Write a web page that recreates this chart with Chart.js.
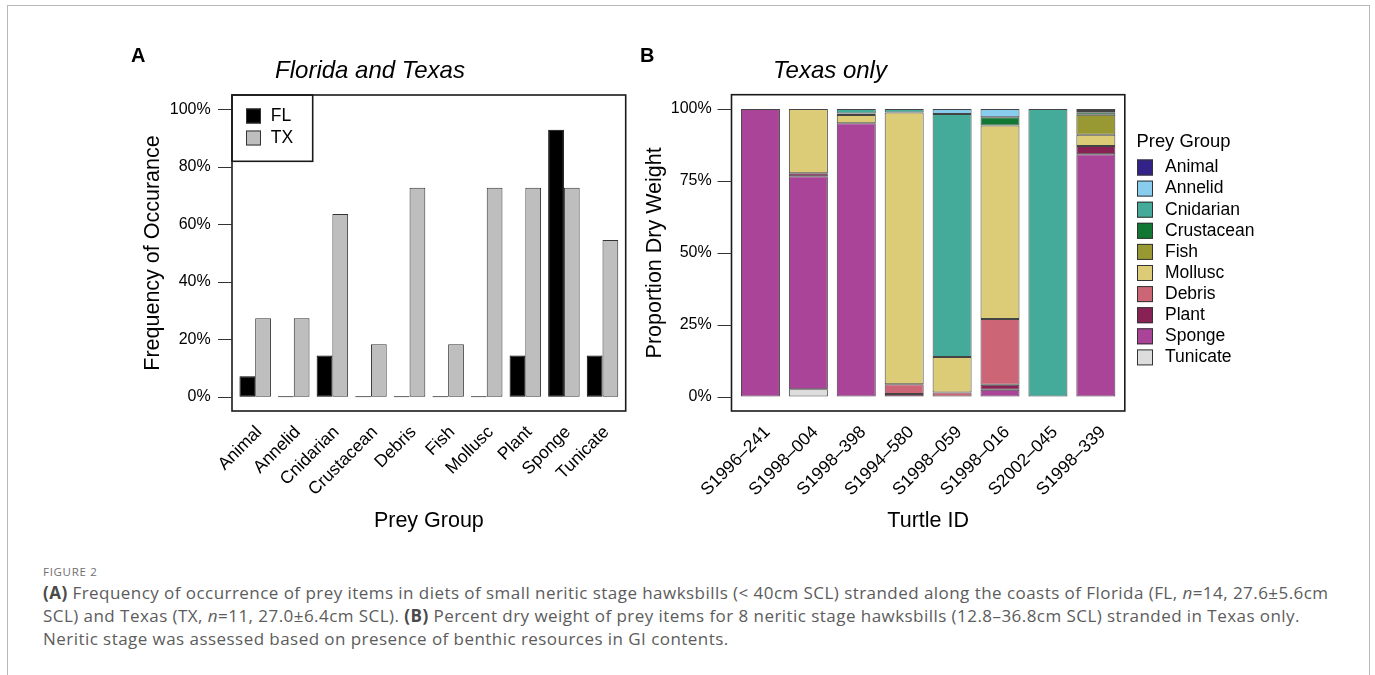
<!DOCTYPE html>
<html>
<head>
<meta charset="utf-8">
<script src="https://cdn.jsdelivr.net/npm/chart.js@4.4.1/dist/chart.umd.min.js"></script>
<style>
  html, body { margin: 0; padding: 0; background: #fff; }
  body { width: 1375px; height: 675px; position: relative; overflow: hidden; }
  #frame { position: absolute; left: 7px; top: 5px; width: 1363px; height: 720px; border: 1px solid #b8b8b8; box-sizing: border-box; }
  #cA { position: absolute; left: 0; top: 0; }
  #cB { position: absolute; left: 630px; top: 0; }
  #caption { position: absolute; left: 43px; top: 563px; font-family: "Open Sans", "Noto Sans", sans-serif; color: #5c5c5c; font-size: 17px; letter-spacing: 0.45px; line-height: 23px; white-space: nowrap; }
  #caption .fig { font-size: 11.5px; letter-spacing: 0.7px; color: #707070; line-height: 18px; }
  #caption b { color: #4a4a4a; }
</style>
</head>
<body>
<div id="frame"></div>
<canvas id="cA" width="660" height="560"></canvas>
<canvas id="cB" width="745" height="560"></canvas>
<div id="caption">
  <div class="fig">FIGURE 2</div>
  <div class="ln"><b>(A)</b> Frequency of occurrence of prey items in diets of small neritic stage hawksbills (&lt; 40cm SCL) stranded along the coasts of Florida (FL, <i>n</i>=14, 27.6±5.6cm</div>
  <div class="ln">SCL) and Texas (TX, <i>n</i>=11, 27.0±6.4cm SCL). <b>(B)</b> Percent dry weight of prey items for 8 neritic stage hawksbills (12.8–36.8cm SCL) stranded in Texas only.</div>
  <div class="ln">Neritic stage was assessed based on presence of benthic resources in GI contents.</div>
</div>
<script>
// ---- Panel A: frequency of occurrence (%) by prey group ----
const preyGroups = ['Animal', 'Annelid', 'Cnidarian', 'Crustacean', 'Debris', 'Fish', 'Mollusc', 'Plant', 'Sponge', 'Tunicate'];
const freqFL = [7.1, 0, 14.3, 0, 0, 0, 0, 14.3, 92.9, 14.3];
const freqTX = [27.3, 27.3, 63.6, 18.2, 72.7, 18.2, 72.7, 72.7, 72.7, 54.5];
const freqTicks = [0, 20, 40, 60, 80, 100];

// ---- Panel B: percent dry weight per turtle (stacked bottom to top) ----
const turtleIds = ['S1996–241', 'S1998–004', 'S1998–398', 'S1994–580', 'S1998–059', 'S1998–016', 'S2002–045', 'S1998–339'];
const pctTunicate   = [0, 2.6, 0, 0, 0, 0, 0, 0];
const pctSponge     = [100, 74.0, 95.1, 0, 0, 2.4, 0, 84.3];
const pctPlant      = [0, 1.1, 0, 0.9, 0, 1.7, 0, 2.9];
const pctDebris     = [0, 0, 0, 3.4, 1.4, 22.9, 0, 0];
const pctMollusc    = [0, 22.3, 2.8, 94.5, 12.4, 67.3, 0, 3.9];
const pctFish       = [0, 0, 0.6, 0, 0, 0, 0, 6.9];
const pctCrustacean = [0, 0, 0, 0, 0, 2.9, 0, 0.9];
const pctCnidarian  = [0, 0, 1.5, 1.2, 84.5, 0, 100, 0];
const pctAnnelid    = [0, 0, 0, 0, 1.7, 2.8, 0, 0.4];
const pctAnimal     = [0, 0, 0, 0, 0, 0, 0, 0.7];
const weightTicks = [0, 25, 50, 75, 100];

const FONT = "'Liberation Sans', Arial, Helvetica, sans-serif";
Chart.defaults.font.family = FONT;
Chart.defaults.color = '#000';
Chart.defaults.animation = false;

// Box around the plot region plus outward y tick marks (base-graphics look)
const rFrame = {
  id: 'rFrame',
  afterDraw(chart, args, o) {
    const { ctx, chartArea: a } = chart;
    const y = chart.scales.y;
    const L = a.left - o.padX, R = a.right + o.padX;
    ctx.save();
    ctx.strokeStyle = '#1a1a1a';
    ctx.lineWidth = 1.6;
    ctx.strokeRect(L, a.top, R - L, a.bottom - a.top);
    ctx.lineWidth = 1;
    ctx.strokeStyle = '#333';
    ctx.beginPath();
    y.ticks.forEach(t => {
      const py = Math.round(y.getPixelForValue(t.value)) + 0.5;
      ctx.moveTo(L - 14, py);
      ctx.lineTo(L, py);
    });
    ctx.stroke();
    ctx.restore();
  }
};

// Panel letters and panel titles
const panelText = {
  id: 'panelText',
  afterDraw(chart, args, o) {
    const ctx = chart.ctx;
    ctx.save();
    ctx.fillStyle = '#000';
    ctx.textBaseline = 'alphabetic';
    o.items.forEach(it => {
      ctx.font = it.font;
      ctx.textAlign = it.align || 'left';
      ctx.fillText(it.text, it.x, it.y);
    });
    ctx.restore();
  }
};

// Key with filled squares, optional frame and title
const boxLegend = {
  id: 'boxLegend',
  afterDraw(chart, args, o) {
    const ctx = chart.ctx;
    const ds = chart.data.datasets;
    ctx.save();
    if (o.frame) {
      ctx.strokeStyle = '#1a1a1a';
      ctx.lineWidth = 1.6;
      ctx.strokeRect(o.frame.x, o.frame.y, o.frame.w, o.frame.h);
    }
    ctx.textBaseline = 'middle';
    ctx.textAlign = 'left';
    if (o.title) {
      ctx.fillStyle = '#000';
      ctx.font = o.titleFont;
      ctx.fillText(o.title, o.titleX, o.titleY);
    }
    const order = o.reverse ? ds.map((d, i) => i).reverse() : ds.map((d, i) => i);
    order.forEach((di, k) => {
      const d = ds[di];
      const cy = o.y0 + k * o.step;
      ctx.fillStyle = d.backgroundColor;
      ctx.fillRect(o.x, cy - o.size / 2, o.size, o.size);
      ctx.strokeStyle = '#333';
      ctx.lineWidth = 1;
      ctx.strokeRect(o.x + 0.5, cy - o.size / 2 + 0.5, o.size - 1, o.size - 1);
      ctx.fillStyle = '#000';
      ctx.font = o.font;
      ctx.fillText(d.label, o.textX, cy);
    });
    ctx.restore();
  }
};

// ---------- Panel A ----------
new Chart(document.getElementById('cA'), {
  type: 'bar',
  data: {
    labels: preyGroups,
    datasets: [
      { label: 'FL', data: freqFL, backgroundColor: '#000000', borderColor: '#000000', borderWidth: 1, borderSkipped: false, minBarLength: 1 },
      { label: 'TX', data: freqTX, backgroundColor: '#bebebe', borderColor: '#333333', borderWidth: 1, borderSkipped: false }
    ]
  },
  options: {
    responsive: false,
    animation: false,
    layout: { padding: { left: 135.9, top: 95, right: 38.2, bottom: 26 } },
    datasets: { bar: { categoryPercentage: 0.816, barPercentage: 1 } },
    plugins: {
      legend: { display: false },
      tooltip: { enabled: false },
      rFrame: { padX: 3.9 },
      panelText: { items: [
        { text: 'A', x: 131, y: 62, font: `bold 20px ${FONT}` },
        { text: 'Florida and Texas', x: 370, y: 78, align: 'center', font: `italic 24px ${FONT}` }
      ] },
      boxLegend: {
        frame: { x: 232, y: 95, w: 80.7, h: 66.3 },
        x: 246, size: 15, y0: 116, step: 22, textX: 270.7,
        font: `17.5px ${FONT}`
      }
    },
    scales: {
      x: {
        grid: { display: false, drawTicks: false },
        border: { display: false },
        ticks: { minRotation: 45, maxRotation: 45, autoSkip: false, labelOffset: 4, padding: 11, font: { size: 17.5 }, color: '#000' },
        title: { display: true, text: 'Prey Group', font: { size: 21.5 }, padding: { top: 0, bottom: 0 }, color: '#000' },
        afterFit: s => { s.height = 123; }
      },
      y: {
        min: -5, max: 105,
        afterBuildTicks: s => { s.ticks = freqTicks.map(v => ({ value: v })); },
        grid: { display: false, drawTicks: false },
        border: { display: false },
        ticks: { padding: 25.2, font: { size: 16 }, color: '#000', callback: v => v + '%' },
        title: { display: true, text: 'Frequency of Occurance', font: { size: 21.5 }, padding: { top: 4, bottom: 0 }, color: '#000' },
        afterFit: s => { s.width = 100; }
      }
    }
  },
  plugins: [rFrame, panelText, boxLegend]
});

// ---------- Panel B ----------
const groupSeries = [
  ['Tunicate', pctTunicate, '#DDDDDD'],
  ['Sponge', pctSponge, '#AA4499'],
  ['Plant', pctPlant, '#882255'],
  ['Debris', pctDebris, '#CC6677'],
  ['Mollusc', pctMollusc, '#DDCC77'],
  ['Fish', pctFish, '#999933'],
  ['Crustacean', pctCrustacean, '#117733'],
  ['Cnidarian', pctCnidarian, '#44AA99'],
  ['Annelid', pctAnnelid, '#88CCEE'],
  ['Animal', pctAnimal, '#332288']
];

new Chart(document.getElementById('cB'), {
  type: 'bar',
  data: {
    labels: turtleIds,
    datasets: groupSeries.map(([label, data, color]) => ({
      label, data, backgroundColor: color, borderColor: 'rgba(35,35,35,0.85)', borderWidth: 1, borderSkipped: false
    }))
  },
  options: {
    responsive: false,
    animation: false,
    layout: { padding: { left: 0, top: 94.7, right: 255.2, bottom: 26 } },
    datasets: { bar: { categoryPercentage: 0.814, barPercentage: 1 } },
    plugins: {
      legend: { display: false },
      tooltip: { enabled: false },
      rFrame: { padX: 5 },
      panelText: { items: [
        { text: 'B', x: 10, y: 62, font: `bold 20px ${FONT}` },
        { text: 'Texas only', x: 200, y: 78, align: 'center', font: `italic 24px ${FONT}` }
      ] },
      boxLegend: {
        reverse: true,
        title: 'Prey Group', titleX: 506.5, titleY: 141.7, titleFont: `18.4px ${FONT}`,
        x: 507, size: 16, y0: 167.5, step: 21.1, textX: 535,
        font: `17.5px ${FONT}`
      }
    },
    scales: {
      x: {
        stacked: true,
        grid: { display: false, drawTicks: false },
        border: { display: false },
        ticks: { minRotation: 45, maxRotation: 45, autoSkip: false, labelOffset: 7, padding: 11, font: { size: 17.5 }, color: '#000' },
        title: { display: true, text: 'Turtle ID', font: { size: 21.5 }, padding: { top: 0, bottom: 0 }, color: '#000' },
        afterFit: s => { s.height = 123; }
      },
      y: {
        stacked: true,
        min: -5, max: 105,
        afterBuildTicks: s => { s.ticks = weightTicks.map(v => ({ value: v })); },
        grid: { display: false, drawTicks: false },
        border: { display: false },
        ticks: { padding: 24.8, font: { size: 16 }, color: '#000', callback: v => v + '%' },
        title: { display: true, text: 'Proportion Dry Weight', font: { size: 21.5 }, padding: { top: 12.4, bottom: 0 }, color: '#000' },
        afterFit: s => { s.width = 106.5; }
      }
    }
  },
  plugins: [rFrame, panelText, boxLegend]
});
</script>
</body>
</html>
